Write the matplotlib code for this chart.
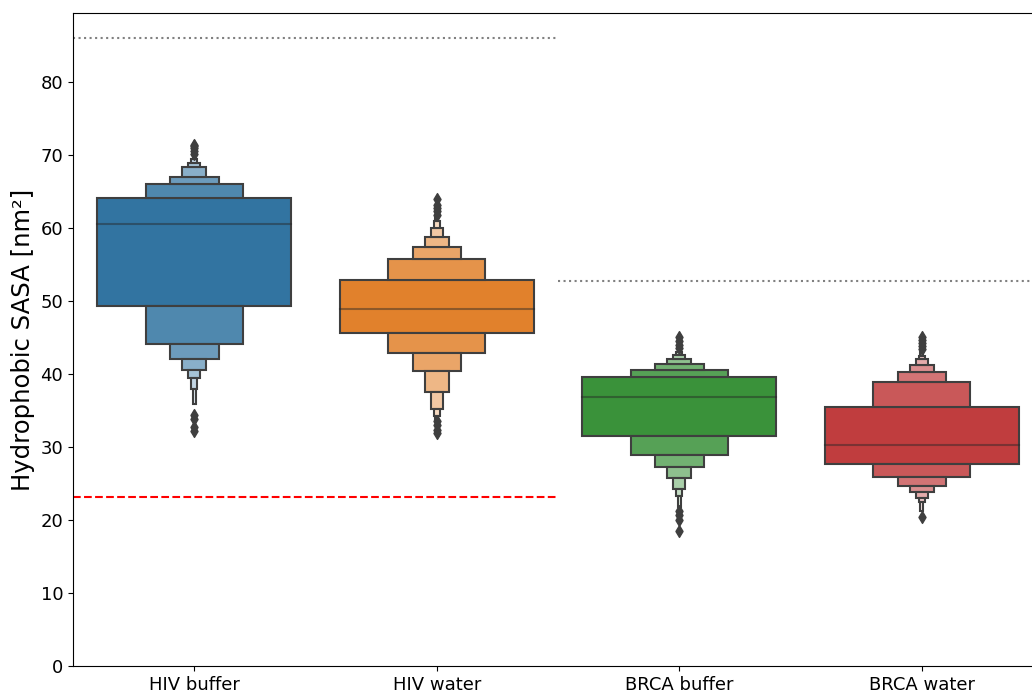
import numpy as np
import matplotlib
matplotlib.use('Agg')
import matplotlib.pyplot as plt
import matplotlib.colors as mcolors

categories = ['HIV buffer', 'HIV water', 'BRCA buffer', 'BRCA water']
box_colors = ['#3274a1', '#e1812c', '#3a923a', '#c03d3e']
medians = [60.6, 48.86, 36.85, 30.27]
upper_levels = [
    [64.15, 65.98, 67.03, 68.3, 68.9, 69.4, 69.8],
    [52.92, 55.75, 57.44, 58.77, 60.05, 60.92, 61.56],
    [39.54, 40.55, 41.42, 42.0, 42.6, 42.97, 43.3],
    [35.43, 38.85, 40.23, 41.18, 42.0, 42.47, 43.05],
]
lower_levels = [
    [49.36, 44.06, 42.1, 40.5, 39.4, 38.0, 35.9],
    [45.57, 42.92, 40.46, 37.49, 35.25, 34.2, 33.8],
    [31.5, 28.9, 27.2, 25.8, 24.3, 23.3, 21.8],
    [27.67, 25.93, 24.66, 23.84, 22.97, 22.4, 21.2],
]
outliers = [
    [70.1, 70.5, 70.9, 71.2, 71.4, 34.4, 33.9, 32.8, 32.2],
    [61.8, 62.3, 62.7, 63.1, 64.0, 33.6, 33.0, 32.3, 31.9],
    [43.6, 44.0, 44.5, 45.1, 21.2, 20.7, 20.0, 18.5],
    [43.4, 43.8, 44.2, 44.6, 45.0, 20.4],
]
ref_values = [86.0, 52.74, 23.15]
ref_starts = [-0.5, 1.5, -0.5]
ref_ends = [1.5, 3.5, 1.5]
ref_colors = ['gray', 'gray', 'red']
ref_styles = [':', ':', '--']
yticks = [0, 10, 20, 30, 40, 50, 60, 70, 80]

W, H = 1032, 691
fig = plt.figure(figsize=(W / 100, H / 100), dpi=100)
ax = fig.add_axes([73 / W, 25 / H, 970 / W, 653 / H])

edge = '#3f3f3f'
lw = 1.5
x = np.arange(len(categories))
for ci, cat in enumerate(categories):
    base = np.array(mcolors.to_rgb(box_colors[ci]))
    up = upper_levels[ci]
    lo = lower_levels[ci]
    k = len(up)
    for i in range(k):
        t = 0.85 * i / (k - 1)
        col = base + (1 - base) * t
        w = 0.8 * 0.5 ** i
        if i == 0:
            ax.bar(x[ci], up[0] - lo[0], bottom=lo[0], width=w, color=col,
                   edgecolor=edge, linewidth=lw, zorder=2)
        else:
            ax.bar(x[ci], up[i] - up[i - 1], bottom=up[i - 1], width=w, color=col,
                   edgecolor=edge, linewidth=lw, zorder=2)
            ax.bar(x[ci], lo[i - 1] - lo[i], bottom=lo[i], width=w, color=col,
                   edgecolor=edge, linewidth=lw, zorder=2)
    ax.plot([x[ci] - 0.4, x[ci] + 0.4], [medians[ci], medians[ci]],
            color='.15', alpha=0.45, lw=lw, zorder=3)
    ax.scatter(np.full(len(outliers[ci]), x[ci]), outliers[ci], marker='d',
               s=36, color=edge, zorder=3)

for v, s, e, c, ls in zip(ref_values, ref_starts, ref_ends, ref_colors, ref_styles):
    ax.hlines(v, s, e, colors=c, linestyles=ls, lw=1.5, zorder=1)

ax.set_xlim(-0.5, 3.5)
ax.set_ylim(0, 89.45)
ax.set_xticks(x)
ax.set_xticklabels(categories)
ax.set_yticks(yticks)
ax.tick_params(labelsize=13)
ax.set_ylabel('Hydrophobic SASA [nm²]', fontsize=17.5)

fig.savefig('out.png', dpi=100)
